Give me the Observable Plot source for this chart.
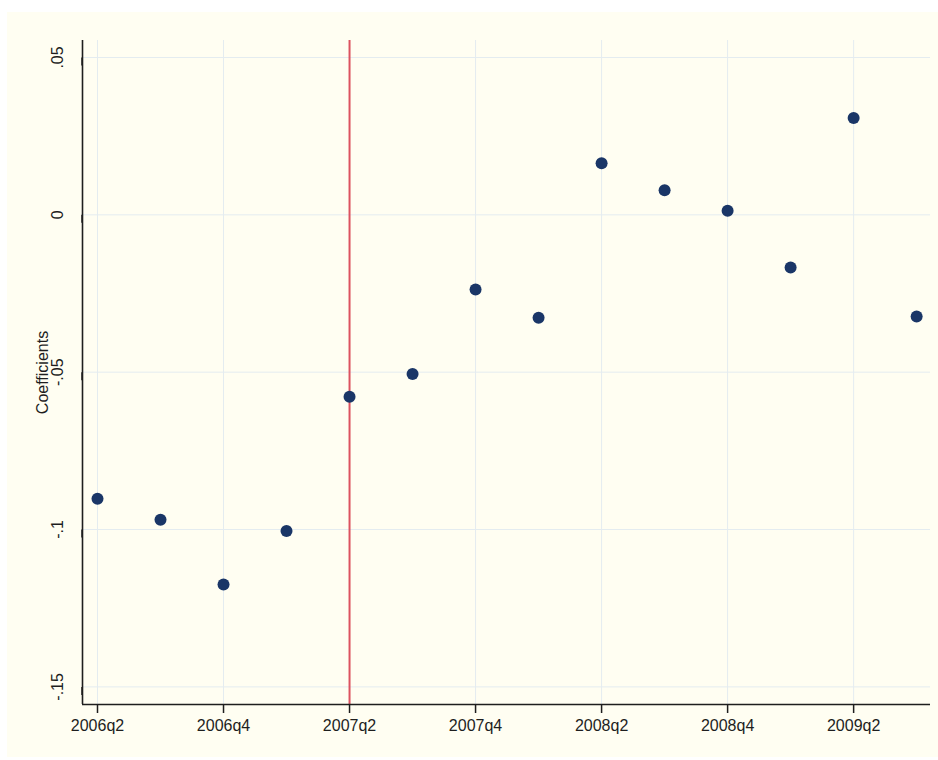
<!DOCTYPE html>
<html><head><meta charset="utf-8">
<script src="https://cdn.jsdelivr.net/npm/d3@7"></script>
<script src="https://cdn.jsdelivr.net/npm/@observablehq/plot@0.6"></script>
<style>
html,body{margin:0;padding:0;background:#fff;}
#wrap{position:relative;width:938px;height:760px;overflow:hidden;}
#bg{position:absolute;left:7px;top:12px;width:931px;height:745px;background:#fffef2;}
#chart{position:absolute;left:0;top:0;}
</style></head><body>
<div id="wrap"><div id="bg"></div><div id="chart"></div></div>
<script>
const quarters = ["2006q2","2006q3","2006q4","2007q1","2007q2","2007q3","2007q4","2008q1","2008q2","2008q3","2008q4","2009q1","2009q2","2009q3"];
const coefficients = [-0.0902,-0.0969,-0.1175,-0.1005,-0.0578,-0.0506,-0.0237,-0.0327,0.0164,0.0078,0.0013,-0.0167,0.0308,-0.0323];
const xTickQuarters = ["2006q2","2006q4","2007q2","2007q4","2008q2","2008q4","2009q2"];
const yTicks = [0.05, 0, -0.05, -0.1, -0.15];
const yTickLabels = [".05","0","-.05","-.1","-.15"];
const eventQuarter = "2007q2";
const yLabel = "Coefficients";
const xDomain = [-0.238, 13.22];
const yDomain = [-0.1556, 0.0554];

const data = quarters.map((q, i) => ({i, q, c: coefficients[i]}));
const idx = q => quarters.indexOf(q);
const xTicks = xTickQuarters.map(idx);
const ink = "#1e1e1e";
const gridColor = "#e4ecf0";

const plot = Plot.plot({
  width: 938, height: 760,
  marginLeft: 82, marginRight: 8, marginTop: 40, marginBottom: 56,
  style: {background: "transparent", fontFamily: "'Liberation Sans', Arial, sans-serif", fontSize: "16px", color: ink},
  x: {type: "linear", domain: xDomain},
  y: {type: "linear", domain: yDomain},
  marks: [
    Plot.gridX(xTicks, {stroke: gridColor, strokeOpacity: 1, strokeWidth: 1}),
    Plot.gridY(yTicks, {stroke: gridColor, strokeOpacity: 1, strokeWidth: 1}),
    Plot.ruleX([idx(eventQuarter)], {stroke: "#dc5260", strokeWidth: 2}),
    Plot.ruleY([yDomain[0]], {stroke: ink, strokeWidth: 1.6}),
    Plot.ruleX([xDomain[0]], {stroke: ink, strokeWidth: 1.6}),
    Plot.axisX(xTicks, {tickSize: 9, tickPadding: 6, tickFormat: i => quarters[i], fontSize: 16, stroke: ink, strokeWidth: 1.5, label: null}),
    Plot.axisY(yTicks, {tickSize: 8, tickPadding: 17, rotate: -90, textAnchor: "middle", tickFormat: v => yTickLabels[yTicks.indexOf(v)], fontSize: 16, stroke: ink, strokeWidth: 1.5, label: null}),
    Plot.text([yLabel], {text: d => d, frameAnchor: "left", textAnchor: "middle", rotate: -90, dx: -40, fontSize: 16, fill: ink}),
    Plot.dot(data, {x: "i", y: "c", r: 6, fill: "#1a3667", stroke: null})
  ]
});
document.getElementById("chart").appendChild(plot);
</script>
</body></html>
